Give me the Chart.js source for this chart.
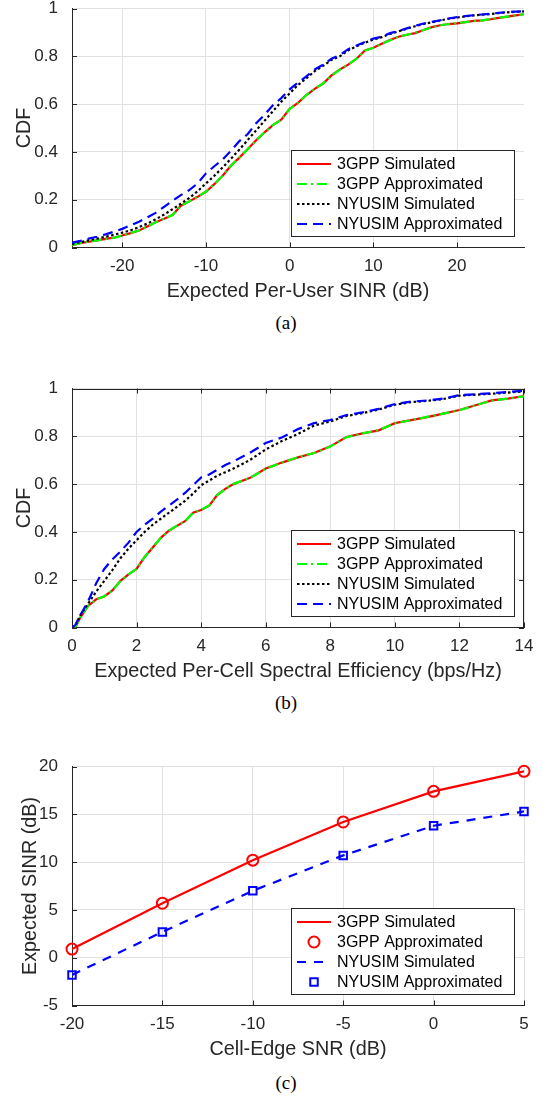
<!DOCTYPE html>
<html>
<head>
<meta charset="utf-8">
<script src="https://cdn.jsdelivr.net/npm/chart.js"></script>
<style>
  body { margin: 0; background: #fff; }
  .page { position: relative; width: 543px; height: 1097px; overflow: hidden; }
  canvas { position: absolute; left: 0; }
  .caption {
    position: absolute; left: 0; width: 572px; text-align: center;
    font-family: "Liberation Serif", "Times New Roman", serif;
    font-size: 19px; line-height: 20px; color: #000;
  }
</style>
</head>
<body>
<div class="page">
  <canvas id="chartA" width="543" height="310" style="top:0px"></canvas>
  <div class="caption" style="top:313px">(a)</div>
  <canvas id="chartB" width="543" height="310" style="top:380px"></canvas>
  <div class="caption" style="top:693px">(b)</div>
  <canvas id="chartC" width="543" height="310" style="top:758px"></canvas>
  <div class="caption" style="top:1073px">(c)</div>
</div>
<script>
// (a) expected per-user SINR CDF
const sinrX = [-26, -25, -24, -23, -22, -21, -20, -19, -18, -17, -16, -15, -14, -13, -12, -11, -10, -9, -8, -7,
    -6, -5, -4, -3, -2, -1, 0, 1, 2, 3, 4, 5, 6, 7, 8, 9, 10, 11, 12, 13,
    14, 15, 16, 17, 18, 19, 20, 21, 22, 23, 24, 25, 26, 27, 28];
const sinr3gppSim = [0.010, 0.018, 0.024, 0.030, 0.036, 0.041, 0.050, 0.060, 0.071, 0.088, 0.106, 0.120, 0.136, 0.175, 0.193, 0.212, 0.233, 0.265, 0.300, 0.343,
    0.376, 0.412, 0.449, 0.482, 0.512, 0.535, 0.580, 0.605, 0.638, 0.664, 0.686, 0.720, 0.745, 0.765, 0.790, 0.824, 0.836, 0.852, 0.868, 0.882,
    0.890, 0.897, 0.910, 0.922, 0.930, 0.935, 0.938, 0.943, 0.948, 0.950, 0.955, 0.961, 0.966, 0.971, 0.976];
const sinr3gppApprox = [0.011, 0.018, 0.025, 0.030, 0.036, 0.040, 0.050, 0.061, 0.071, 0.087, 0.106, 0.121, 0.136, 0.174, 0.193, 0.213, 0.233, 0.266, 0.300, 0.342,
    0.377, 0.412, 0.448, 0.482, 0.512, 0.535, 0.579, 0.606, 0.638, 0.665, 0.686, 0.719, 0.745, 0.766, 0.790, 0.823, 0.836, 0.852, 0.867, 0.882,
    0.890, 0.898, 0.910, 0.921, 0.930, 0.935, 0.939, 0.943, 0.947, 0.950, 0.956, 0.961, 0.966, 0.971, 0.976];
const sinrNyuSim = [0.015, 0.022, 0.030, 0.037, 0.045, 0.053, 0.062, 0.072, 0.085, 0.100, 0.118, 0.138, 0.160, 0.183, 0.207, 0.235, 0.268, 0.300, 0.335, 0.372,
    0.410, 0.450, 0.490, 0.530, 0.570, 0.610, 0.645, 0.680, 0.708, 0.738, 0.760, 0.785, 0.800, 0.825, 0.842, 0.857, 0.870, 0.880, 0.894, 0.904,
    0.915, 0.926, 0.935, 0.942, 0.950, 0.957, 0.962, 0.967, 0.971, 0.974, 0.977, 0.981, 0.984, 0.986, 0.988];
const sinrNyuApprox = [0.020, 0.028, 0.037, 0.045, 0.055, 0.066, 0.078, 0.093, 0.108, 0.126, 0.145, 0.170, 0.195, 0.219, 0.240, 0.268, 0.310, 0.340, 0.368, 0.405,
    0.445, 0.475, 0.520, 0.555, 0.595, 0.625, 0.662, 0.690, 0.716, 0.745, 0.765, 0.790, 0.805, 0.830, 0.845, 0.860, 0.874, 0.882, 0.897, 0.906,
    0.917, 0.928, 0.937, 0.944, 0.951, 0.958, 0.964, 0.968, 0.972, 0.975, 0.978, 0.982, 0.985, 0.987, 0.989];

// (b) expected per-cell spectral efficiency CDF
const seX = [0, 0.1, 0.25, 0.5, 0.75, 1, 1.25, 1.5, 1.75, 2, 2.25, 2.5, 2.75, 3, 3.25, 3.5, 3.75, 4, 4.25, 4.5,
    4.75, 5, 5.5, 6, 6.5, 7, 7.5, 8, 8.5, 9, 9.5, 10, 10.5, 11, 11.5, 12, 12.5, 13, 13.5, 14];
const se3gppSim = [0, 0, 0.040, 0.090, 0.118, 0.130, 0.155, 0.195, 0.222, 0.245, 0.295, 0.335, 0.375, 0.405, 0.425, 0.445, 0.480, 0.492, 0.510, 0.555,
    0.580, 0.600, 0.625, 0.665, 0.690, 0.712, 0.730, 0.758, 0.797, 0.812, 0.825, 0.855, 0.868, 0.880, 0.895, 0.910, 0.930, 0.950, 0.958, 0.968];
const se3gppApprox = [0, 0, 0.041, 0.091, 0.117, 0.131, 0.155, 0.194, 0.222, 0.246, 0.294, 0.336, 0.374, 0.405, 0.426, 0.445, 0.479, 0.493, 0.511, 0.554,
    0.580, 0.601, 0.625, 0.664, 0.690, 0.713, 0.730, 0.757, 0.796, 0.812, 0.826, 0.854, 0.868, 0.881, 0.895, 0.909, 0.930, 0.949, 0.958, 0.967];
const seNyuSim = [0, 0.005, 0.050, 0.100, 0.150, 0.195, 0.240, 0.290, 0.330, 0.365, 0.400, 0.430, 0.455, 0.480, 0.505, 0.530, 0.560, 0.595, 0.615, 0.635,
    0.650, 0.665, 0.700, 0.745, 0.780, 0.810, 0.845, 0.862, 0.885, 0.897, 0.912, 0.932, 0.943, 0.948, 0.956, 0.970, 0.974, 0.978, 0.983, 0.988];
const seNyuApprox = [0, 0.010, 0.050, 0.110, 0.185, 0.245, 0.285, 0.318, 0.355, 0.400, 0.430, 0.455, 0.485, 0.510, 0.535, 0.563, 0.595, 0.628, 0.640, 0.660,
    0.680, 0.695, 0.730, 0.772, 0.795, 0.830, 0.855, 0.868, 0.889, 0.900, 0.915, 0.935, 0.945, 0.950, 0.958, 0.972, 0.976, 0.980, 0.985, 0.991];

// (c) expected SINR vs cell-edge SNR
const snrX = [-20, -15, -10, -5, 0, 5];
const edge3gppSim = [0.9, 5.7, 10.2, 14.2, 17.4, 19.5];
const edge3gppApprox = [0.9, 5.7, 10.2, 14.2, 17.4, 19.5];
const edgeNyuSim = [-1.8, 2.7, 7.0, 10.7, 13.8, 15.3];
const edgeNyuApprox = [-1.8, 2.7, 7.0, 10.7, 13.8, 15.3];

const seriesNames = ["3GPP Simulated", "3GPP Approximated", "NYUSIM Simulated", "NYUSIM Approximated"];

const FONT = '"Liberation Sans", Arial, Helvetica, sans-serif';
const AXIS_COLOR = "#262626";
const GRID_COLOR = "#e1e1e1";
const LINE_W = 2.2;

function toPoints(xs, ys) {
    return xs.map((x, i) => ({ x: x, y: ys[i] }));
}

// legend box drawn inside the lower right corner of the plot
const boxLegend = {
    id: "boxLegend",
    afterDraw(chart) {
        const { ctx, chartArea } = chart;
        const w = 223, h = 86;
        const left = Math.round(chartArea.right - 10 - w);
        const top = Math.round(chartArea.bottom - 12 - h);
        ctx.save();
        ctx.fillStyle = "#fff";
        ctx.fillRect(left, top, w, h);
        ctx.strokeStyle = AXIS_COLOR;
        ctx.lineWidth = 1;
        ctx.strokeRect(left + 0.5, top + 0.5, w, h);
        ctx.font = "16px " + FONT;
        ctx.textBaseline = "middle";
        chart.data.datasets.forEach((ds, i) => {
            const y = top + 14 + i * 20;
            if (ds.showLine === false) {
                ctx.setLineDash([]);
                ctx.strokeStyle = ds.pointBorderColor;
                ctx.lineWidth = ds.pointBorderWidth;
                ctx.beginPath();
                if (ds.pointStyle === "rect") {
                    const s = ds.pointRadius * Math.SQRT1_2;
                    ctx.rect(left + 23 - s, y - s, 2 * s, 2 * s);
                } else {
                    ctx.arc(left + 23, y, ds.pointRadius, 0, Math.PI * 2);
                }
                ctx.stroke();
            } else {
                ctx.setLineDash(ds.borderDash || []);
                ctx.strokeStyle = ds.borderColor;
                ctx.lineWidth = ds.borderWidth;
                ctx.beginPath();
                ctx.moveTo(left + 6, y);
                ctx.lineTo(left + 40, y);
                ctx.stroke();
            }
            ctx.setLineDash([]);
            ctx.fillStyle = "#000";
            ctx.fillText(ds.label, left + 46, y + 1);
        });
        ctx.restore();
    }
};

// matlab style inward ticks, plus the box for plot (b)
const inTicks = {
    id: "inTicks",
    beforeDatasetsDraw(chart, args, opts) {
        const { ctx, chartArea: a, scales } = chart;
        ctx.save();
        ctx.strokeStyle = AXIS_COLOR;
        ctx.lineWidth = 1;
        ctx.beginPath();
        scales.x.ticks.forEach(t => {
            const px = Math.round(scales.x.getPixelForValue(t.value)) + 0.5;
            ctx.moveTo(px, a.bottom);
            ctx.lineTo(px, a.bottom - 5);
            if (opts.box) {
                ctx.moveTo(px, a.top);
                ctx.lineTo(px, a.top + 5);
            }
        });
        scales.y.ticks.forEach(t => {
            const py = Math.round(scales.y.getPixelForValue(t.value)) + 0.5;
            ctx.moveTo(a.left, py);
            ctx.lineTo(a.left + 5, py);
            if (opts.box) {
                ctx.moveTo(a.right, py);
                ctx.lineTo(a.right - 5, py);
            }
        });
        if (opts.box) {
            const t = Math.round(a.top) + 0.5, r = Math.round(a.right) - 0.5;
            ctx.moveTo(a.left, t);
            ctx.lineTo(r, t);
            ctx.lineTo(r, a.bottom);
        }
        ctx.stroke();
        ctx.restore();
    }
};

function axisOptions(min, max, step, title, isY, titleOffset) {
    return {
        type: "linear",
        min: min,
        max: max,
        ticks: {
            stepSize: step,
            includeBounds: false,
            autoSkip: false,
            maxRotation: 0,
            color: AXIS_COLOR,
            font: { family: FONT, size: 17 },
            padding: isY ? 14 : 9,
            callback: v => String(Math.round(v * 10) / 10)
        },
        grid: { color: GRID_COLOR, lineWidth: 1, drawTicks: false },
        border: { color: AXIS_COLOR, width: 1 },
        title: {
            display: true,
            text: title,
            color: AXIS_COLOR,
            font: { family: FONT, size: 19.8 },
            padding: isY ? { top: titleOffset, bottom: 0 } : { top: 0, bottom: 3.6 }
        },
        afterFit(scale) {
            if (isY) {
                scale.width = 72;
                scale.paddingTop = 0;
                scale.paddingBottom = 0;
            } else {
                scale.height = 60;
                scale.paddingLeft = 0;
                scale.paddingRight = 0;
            }
        }
    };
}

function makeChart(id, datasets, xAxis, yAxis, box) {
    return new Chart(document.getElementById(id), {
        type: "line",
        data: { datasets: datasets },
        options: {
            responsive: false,
            animation: false,
            devicePixelRatio: 1,
            layout: { padding: { left: 0, right: 19, top: 8.5, bottom: 2.5 } },
            plugins: {
                legend: { display: false },
                tooltip: { enabled: false },
                inTicks: { box: box }
            },
            scales: { x: xAxis, y: yAxis }
        },
        plugins: [inTicks, boxLegend]
    });
}

function cdfDatasets(xs, a, b, c, d) {
    return [
        { label: seriesNames[0], data: toPoints(xs, a), borderColor: "#ff0000", borderWidth: LINE_W, pointRadius: 0, order: 4 },
        { label: seriesNames[1], data: toPoints(xs, b), borderColor: "#00ff00", borderWidth: LINE_W, borderDash: [10, 4, 2, 4], pointRadius: 0, order: 3 },
        { label: seriesNames[2], data: toPoints(xs, c), borderColor: "#000000", borderWidth: LINE_W, borderDash: [2.5, 2.5], pointRadius: 0, order: 2 },
        { label: seriesNames[3], data: toPoints(xs, d), borderColor: "#0000ff", borderWidth: LINE_W, borderDash: [10, 6], pointRadius: 0, order: 1 }
    ];
}

makeChart("chartA",
    cdfDatasets(sinrX, sinr3gppSim, sinr3gppApprox, sinrNyuSim, sinrNyuApprox),
    axisOptions(-26, 28, 10, "Expected Per-User SINR (dB)", false),
    axisOptions(0, 1, 0.2, "CDF", true, 13),
    false);

makeChart("chartB",
    cdfDatasets(seX, se3gppSim, se3gppApprox, seNyuSim, seNyuApprox),
    axisOptions(0, 14, 2, "Expected Per-Cell Spectral Efficiency (bps/Hz)", false),
    axisOptions(0, 1, 0.2, "CDF", true, 13),
    true);

makeChart("chartC", [
        { label: seriesNames[0], data: toPoints(snrX, edge3gppSim), borderColor: "#ff0000", borderWidth: LINE_W, pointRadius: 0, order: 4 },
        { label: seriesNames[1], data: toPoints(snrX, edge3gppApprox), showLine: false, pointStyle: "circle", pointRadius: 5.5,
          pointBorderWidth: 2, pointBorderColor: "#ff0000", pointBackgroundColor: "rgba(0,0,0,0)", clip: false, order: 3 },
        { label: seriesNames[2], data: toPoints(snrX, edgeNyuSim), borderColor: "#0000ff", borderWidth: LINE_W, borderDash: [9, 8], pointRadius: 0, order: 2 },
        { label: seriesNames[3], data: toPoints(snrX, edgeNyuApprox), showLine: false, pointStyle: "rect", pointRadius: 5.3,
          pointBorderWidth: 2, pointBorderColor: "#0000ff", pointBackgroundColor: "rgba(0,0,0,0)", clip: false, order: 1 }
    ],
    axisOptions(-20, 5, 5, "Cell-Edge SNR (dB)", false),
    axisOptions(-5, 20, 5, "Expected SINR (dB)", true, 19),
    false);
</script>
</body>
</html>
